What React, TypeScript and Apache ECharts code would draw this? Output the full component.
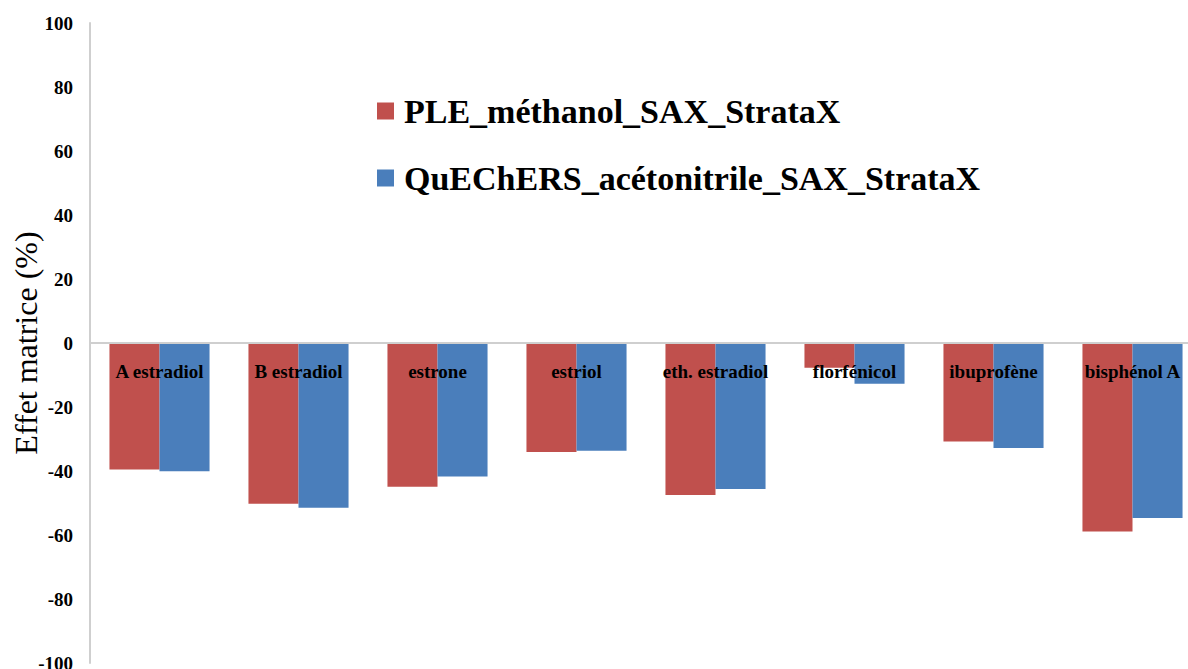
import React, { useEffect, useRef } from "react";
import * as echarts from "echarts";

const categories = [
  "A estradiol",
  "B estradiol",
  "estrone",
  "estriol",
  "eth. estradiol",
  "florfénicol",
  "ibuprofène",
  "bisphénol A",
];
const seriesNames = ["PLE_méthanol_SAX_StrataX", "QuEChERS_acétonitrile_SAX_StrataX"];
const pleValues = [-39.5, -50.2, -44.9, -34.1, -47.5, -7.7, -30.8, -58.9];
const quechersValues = [-40.1, -51.5, -41.7, -33.7, -45.6, -12.7, -32.8, -54.7];
const yTitle = "Effet matrice (%)";

const SERIF = "Liberation Serif";

export default function App() {
  const ref = useRef<HTMLDivElement>(null);
  useEffect(() => {
    if (!ref.current) return;
    const chart = echarts.init(ref.current, null, { renderer: "svg" });
    chart.setOption({
      animation: false,
      backgroundColor: "#ffffff",
      textStyle: { fontFamily: SERIF },
      grid: {
        left: 90,
        right: -14,
        top: 23,
        bottom: 6,
        containLabel: false,
        outerBoundsMode: "none",
      },
      legend: {
        orient: "vertical",
        left: 372,
        top: 88,
        itemWidth: 17,
        itemHeight: 17,
        itemGap: 31,
        icon: "rect",
        data: seriesNames,
        textStyle: {
          fontFamily: SERIF,
          fontWeight: "bold",
          fontSize: 34,
          lineHeight: 36,
          color: "#000",
          padding: [0, 0, 0, 5],
        },
      },
      xAxis: {
        type: "category",
        data: categories,
        z: 10,
        offset: -320,
        axisLine: { onZero: false, lineStyle: { color: "#cfcfcf", width: 2 } },
        axisTick: { show: false },
        axisLabel: {
          interval: 0,
          margin: 19,
          fontFamily: SERIF,
          fontWeight: "bold",
          fontSize: 19,
          color: "#000",
        },
      },
      yAxis: {
        type: "value",
        min: -100,
        max: 100,
        interval: 20,
        name: "{t|" + yTitle + "}",
        nameLocation: "middle",
        nameRotate: 90,
        nameGap: 48,
        nameMoveOverlap: false,
        nameTextStyle: {
          fontFamily: SERIF,
          fontSize: 32,
          color: "#000",
          rich: { t: { fontFamily: SERIF, fontSize: 32, color: "#000" } },
        },
        axisLine: { show: true, lineStyle: { color: "#cfcfcf", width: 2 } },
        axisTick: { show: false },
        splitLine: { show: false },
        axisLabel: {
          margin: 17,
          formatter: "{v|{value}}",
          fontFamily: SERIF,
          fontWeight: "bold",
          fontSize: 19,
          color: "#000",
          rich: {
            v: { fontFamily: SERIF, fontWeight: "bold", fontSize: 19, color: "#000" },
          },
        },
      },
      series: [
        {
          name: seriesNames[0],
          type: "bar",
          data: pleValues,
          barGap: "0%",
          barCategoryGap: "28%",
          itemStyle: { color: "#C0504D" },
        },
        {
          name: seriesNames[1],
          type: "bar",
          data: quechersValues,
          barGap: "0%",
          barCategoryGap: "28%",
          itemStyle: { color: "#4A7EBB" },
        },
      ],
    });
    return () => chart.dispose();
  }, []);
  return (
    <div
      ref={ref}
      style={{ position: "absolute", left: 0, top: 0, width: 1188, height: 669, overflow: "hidden" }}
    />
  );
}
